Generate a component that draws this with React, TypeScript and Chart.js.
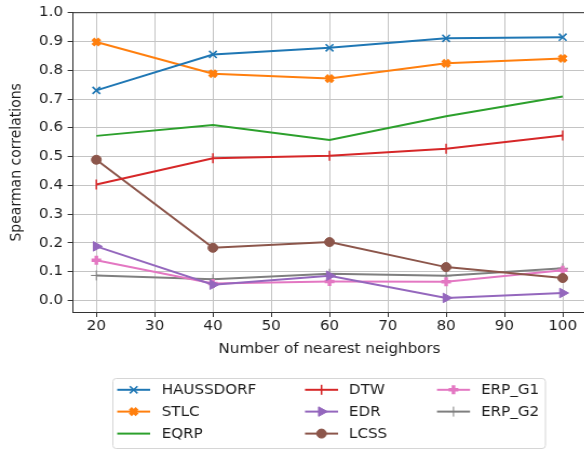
import React, { useEffect, useRef } from 'react';
import { Chart, registerables } from 'chart.js';
import { drawPoint } from 'chart.js/helpers';

Chart.register(...registerables);

// ---- data ----
const neighbors = [20, 40, 60, 80, 100];
const seriesNames = ['HAUSSDORF', 'STLC', 'EQRP', 'DTW', 'EDR', 'LCSS', 'ERP_G1', 'ERP_G2'];
const haussdorf = [0.73, 0.855, 0.878, 0.911, 0.915];
const stlc = [0.898, 0.788, 0.771, 0.824, 0.841];
const eqrp = [0.572, 0.61, 0.558, 0.64, 0.709];
const dtw = [0.403, 0.494, 0.503, 0.527, 0.573];
const edr = [0.188, 0.055, 0.086, 0.009, 0.026];
const lcss = [0.489, 0.183, 0.203, 0.116, 0.078];
const erpG1 = [0.14, 0.059, 0.066, 0.065, 0.105];
const erpG2 = [0.087, 0.074, 0.093, 0.086, 0.112];
const seriesValues = [haussdorf, stlc, eqrp, dtw, edr, lcss, erpG1, erpG2];
const xLabel = 'Number of nearest neighbors';
const yLabel = 'Spearman correlations';

// ---- styles ----
const colors = ['#1f77b4', '#ff7f0e', '#2ca02c', '#d62728', '#9467bd', '#8c564b', '#e377c2', '#7f7f7f'];
const markers = [
  { style: 'crossRot', radius: 5, width: 1.6, rot: 0 },
  { style: 'crossRot', radius: 4.5, width: 3.8, rot: 0 },
  { style: 'circle', radius: 0, width: 0, rot: 0 },
  { style: 'line', radius: 5, width: 1.5, rot: 90 },
  { style: 'triangle', radius: 5.5, width: 1, rot: 90 },
  { style: 'circle', radius: 4.5, width: 1, rot: 0 },
  { style: 'cross', radius: 4.5, width: 3.4, rot: 0 },
  { style: 'cross', radius: 5, width: 1, rot: 0 },
];

const FONT = 'DejaVu Sans';
const TEXT = '#1e1e1e';
const GRID = '#c4c4c4';
const SX = 1.08;
const CW = 560;
const CH = 454;

const legendPlugin = {
  id: 'customLegend',
  afterDraw(chart: any) {
    const ctx = chart.ctx as CanvasRenderingContext2D;
    const area = chart.chartArea;
    ctx.save();
    // top / right spines
    ctx.strokeStyle = '#333';
    ctx.lineWidth = 1;
    ctx.beginPath();
    ctx.moveTo(area.left, area.top);
    ctx.lineTo(area.right, area.top);
    ctx.moveTo(area.right, area.top);
    ctx.lineTo(area.right, area.bottom);
    ctx.stroke();

    // legend box
    const bx = 104.5, by = 378.5, bw = 400.5, bh = 70, r = 3;
    ctx.beginPath();
    ctx.moveTo(bx + r, by);
    ctx.lineTo(bx + bw - r, by);
    ctx.quadraticCurveTo(bx + bw, by, bx + bw, by + r);
    ctx.lineTo(bx + bw, by + bh - r);
    ctx.quadraticCurveTo(bx + bw, by + bh, bx + bw - r, by + bh);
    ctx.lineTo(bx + r, by + bh);
    ctx.quadraticCurveTo(bx, by + bh, bx, by + bh - r);
    ctx.lineTo(bx, by + r);
    ctx.quadraticCurveTo(bx, by, bx + r, by);
    ctx.closePath();
    ctx.fillStyle = 'rgba(255,255,255,0.8)';
    ctx.fill();
    ctx.strokeStyle = '#d6d6d6';
    ctx.lineWidth = 1;
    ctx.stroke();

    const cols = [
      { x0: 108.5, x1: 139, tx: 149.7 },
      { x0: 282.4, x1: 313, tx: 323.1 },
      { x0: 404.6, x1: 435.2, tx: 445.4 },
    ];
    const rows = [389.8, 411.6, 433.6];
    ctx.font = `14px "${FONT}"`;
    ctx.textBaseline = 'middle';
    ctx.textAlign = 'left';
    chart.data.datasets.forEach((ds: any, i: number) => {
      const c = cols[Math.floor(i / 3)];
      const y = rows[i % 3];
      ctx.strokeStyle = ds.borderColor;
      ctx.lineWidth = ds.borderWidth;
      ctx.beginPath();
      ctx.moveTo(c.x0, y);
      ctx.lineTo(c.x1, y);
      ctx.stroke();
      if (ds.pointRadius > 0) {
        ctx.fillStyle = ds.pointBackgroundColor;
        ctx.strokeStyle = ds.pointBorderColor;
        ctx.lineWidth = ds.pointBorderWidth;
        drawPoint(ctx, {
          pointStyle: ds.pointStyle,
          radius: ds.pointRadius,
          rotation: ds.pointRotation || 0,
          borderWidth: ds.pointBorderWidth,
        } as any, (c.x0 + c.x1) / 2, y);
      }
      ctx.fillStyle = TEXT;
      ctx.fillText(ds.label, c.tx, y + 0.5);
    });
    ctx.restore();
  },
};

export default function App() {
  const ref = useRef<HTMLCanvasElement | null>(null);
  useEffect(() => {
    if (!ref.current) return;
    const datasets = seriesNames.map((name, i) => ({
      label: name,
      data: neighbors.map((x, j) => ({ x, y: seriesValues[i][j] })),
      borderColor: colors[i],
      backgroundColor: colors[i],
      borderWidth: 2,
      pointStyle: markers[i].style,
      pointRadius: markers[i].radius,
      pointHoverRadius: markers[i].radius,
      pointBorderWidth: markers[i].width,
      pointRotation: markers[i].rot,
      pointBackgroundColor: colors[i],
      pointBorderColor: colors[i],
      tension: 0,
      fill: false,
    }));
    const chart = new Chart(ref.current, {
      type: 'line',
      data: { datasets },
      plugins: [legendPlugin],
      options: {
        animation: false,
        responsive: false,
        devicePixelRatio: 1,
        layout: { padding: { top: 9, right: CW - 542.6, bottom: CH - 312 - 48, left: 0 } },
        plugins: { legend: { display: false }, tooltip: { enabled: false } },
        scales: {
          x: {
            type: 'linear',
            min: 16,
            max: 104,
            afterFit: (s: any) => { s.height = 48; },
            ticks: {
              stepSize: 10,
              includeBounds: false,
              padding: 1,
              color: TEXT,
              font: { family: FONT, size: 14 },
              maxRotation: 0,
            },
            grid: { color: GRID, lineWidth: 1, tickLength: 5, tickColor: '#333', tickWidth: 1 },
            border: { color: '#333', width: 1 },
            title: {
              display: true,
              text: xLabel,
              color: TEXT,
              font: { family: FONT, size: 14 },
              padding: { top: 0, bottom: 2.6 },
            },
          },
          y: {
            type: 'linear',
            min: -0.04,
            max: 1.0,
            afterFit: (s: any) => { s.width = 67.6; },
            ticks: {
              stepSize: 0.1,
              includeBounds: false,
              padding: 4.3,
              color: TEXT,
              font: { family: FONT, size: 14 },
              callback: (v: any) => Number(v).toFixed(1),
            },
            grid: { color: GRID, lineWidth: 1, tickLength: 5, tickColor: '#333', tickWidth: 1 },
            border: { color: '#333', width: 1 },
            title: {
              display: true,
              text: yLabel,
              color: TEXT,
              font: { family: FONT, size: 14 },
              padding: { top: 7.4, bottom: 0 },
            },
          },
        },
      } as any,
    });
    return () => chart.destroy();
  }, []);

  return (
    <div style={{ position: 'fixed', left: 0, top: 0, width: 584, height: 454, overflow: 'hidden', background: '#fff' }}>
      <div style={{ width: CW, height: CH, transform: `scaleX(${SX})`, transformOrigin: '0 0' }}>
        <canvas ref={ref} width={CW} height={CH} style={{ display: 'block', width: CW, height: CH }} />
      </div>
    </div>
  );
}
